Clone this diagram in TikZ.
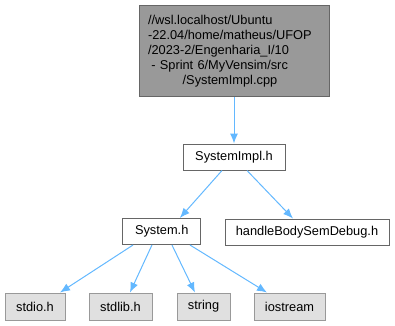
\documentclass[tikz,border=0pt]{standalone}
\usepackage{fontspec}
\setmainfont{Liberation Sans}
\usetikzlibrary{arrows.meta}
\definecolor{edgeblue}{HTML}{63B8FF}
\definecolor{rootfill}{HTML}{999999}
\definecolor{darkline}{HTML}{666666}
\definecolor{sysfill}{HTML}{E0E0E0}
\definecolor{sysline}{HTML}{999999}
\tikzset{
  filebox/.style={draw=darkline, fill=white, line width=0.75pt, inner sep=0pt,
    font=\fontsize{9.6}{11.25}\selectfont, align=center},
  rootbox/.style={filebox, fill=rootfill, align=left, text width=129pt,
    inner xsep=6.75pt, inner ysep=0pt},
  sysbox/.style={filebox, draw=sysline, fill=sysfill},
  dep/.style={draw=edgeblue, line width=0.75pt, -{Latex[length=7.5pt,width=6pt]}}
}
\begin{document}
\begin{tikzpicture}[x=0.75pt, y=-0.75pt]
\useasboundingbox (0,0) rectangle (395,325);
\node[rootbox, minimum height=68.25pt] (root) at (234,51)
  {//wsl.localhost/Ubuntu\\-22.04/home/matheus/UFOP\\/2023-2/Engenharia\_I/10\\\hspace*{2.5pt}- Sprint 6/MyVensim/src\\\hspace*{26pt}/SystemImpl.cpp};
\node[filebox, minimum width=76.5pt, minimum height=19.5pt] (impl) at (234,157) {SystemImpl.h};
\node[filebox, minimum width=58.5pt, minimum height=19.5pt] (sys) at (161.7,231.5) {System.h};
\node[filebox, minimum width=123pt, minimum height=19.5pt] (dbg) at (307,232) {handleBodySemDebug.h};
\node[sysbox, minimum width=45pt, minimum height=20.25pt] (stdio) at (35,306.5) {stdio.h};
\node[sysbox, minimum width=47.25pt, minimum height=20.25pt] (stdlib) at (120.5,306.5) {stdlib.h};
\node[sysbox, minimum width=39.75pt, minimum height=20.25pt] (string) at (203.5,306.5) {string};
\node[sysbox, minimum width=53.25pt, minimum height=20.25pt] (iostream) at (289.5,306.5) {iostream};

\draw[dep] (root.south) -- (impl.north);
\draw[dep] ([xshift=-9pt]impl.south) -- ([xshift=13.6pt]sys.north);
\draw[dep] ([xshift=9.75pt]impl.south) -- ([xshift=-10.5pt]dbg.north);
\draw[dep] ([xshift=-21.5pt]sys.south) -- ([xshift=18.75pt]stdio.north);
\draw[dep] ([xshift=-7.3pt]sys.south) -- ([xshift=7.1pt]stdlib.north);
\draw[dep] ([xshift=7.7pt]sys.south) -- ([xshift=-6.4pt]string.north);
\draw[dep] ([xshift=21.2pt]sys.south) -- ([xshift=-16.9pt]iostream.north);
\end{tikzpicture}
\end{document}
